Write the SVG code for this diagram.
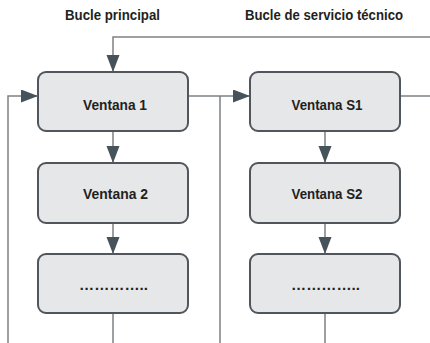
<svg xmlns="http://www.w3.org/2000/svg" width="430" height="343" viewBox="0 0 430 343">
<style>
.box{fill:#e6e7e8;stroke:#50565c;stroke-width:2}
.lbl{font-family:"Liberation Sans",Arial,sans-serif;font-weight:bold;font-size:15px;fill:#231f20;text-anchor:middle}
.ttl{font-family:"Liberation Sans",Arial,sans-serif;font-weight:bold;font-size:15px;fill:#231f20;text-anchor:middle}
.con{fill:none;stroke:#7d8083;stroke-width:1.5}
</style>
<defs>
<marker id="ah" markerUnits="userSpaceOnUse" markerWidth="18" markerHeight="14" refX="17" refY="6.5" orient="auto">
<path d="M0,0 L17,6.5 L0,13 z" fill="#47535b"/>
</marker>
</defs>
<rect width="430" height="343" fill="#ffffff"/>
<g id="titles">
<text class="ttl" x="112.5" y="19.5" textLength="95" lengthAdjust="spacingAndGlyphs">Bucle principal</text>
<text class="ttl" x="324" y="19.5" textLength="158" lengthAdjust="spacingAndGlyphs">Bucle de servicio técnico</text>
</g>
<g id="connectors">
<path class="con" d="M430,37 H113 V72" marker-end="url(#ah)"/>
<path class="con" d="M8,343 V96 H38" marker-end="url(#ah)"/>
<path class="con" d="M188,96 H250" marker-end="url(#ah)"/>
<path class="con" d="M220,96 V343"/>
<path class="con" d="M400,96 H430"/>
<path class="con" d="M113,131 V163" marker-end="url(#ah)"/>
<path class="con" d="M113,223 V254" marker-end="url(#ah)"/>
<path class="con" d="M113,313 V343"/>
<path class="con" d="M325,131 V163" marker-end="url(#ah)"/>
<path class="con" d="M325,223 V254" marker-end="url(#ah)"/>
<path class="con" d="M325,313 V343"/>
</g>
<g id="v1">
<rect class="box" x="38" y="72" width="150" height="59" rx="8"/>
<text class="lbl" x="115" y="109.5" textLength="64" lengthAdjust="spacingAndGlyphs">Ventana 1</text>
</g>
<g id="v2">
<rect class="box" x="38" y="163" width="150" height="60" rx="8"/>
<text class="lbl" x="115.5" y="199" textLength="65" lengthAdjust="spacingAndGlyphs">Ventana 2</text>
</g>
<g id="v3">
<rect class="box" x="38" y="254" width="150" height="59" rx="8"/>
<text class="lbl" x="113.5" y="290" textLength="69" lengthAdjust="spacingAndGlyphs">…………..</text>
</g>
<g id="s1">
<rect class="box" x="250" y="72" width="150" height="59" rx="8"/>
<text class="lbl" x="327" y="109.5" textLength="71" lengthAdjust="spacingAndGlyphs">Ventana S1</text>
</g>
<g id="s2">
<rect class="box" x="250" y="163" width="150" height="60" rx="8"/>
<text class="lbl" x="327" y="199" textLength="71" lengthAdjust="spacingAndGlyphs">Ventana S2</text>
</g>
<g id="s3">
<rect class="box" x="250" y="254" width="150" height="59" rx="8"/>
<text class="lbl" x="325.5" y="290" textLength="69" lengthAdjust="spacingAndGlyphs">…………..</text>
</g>
</svg>
